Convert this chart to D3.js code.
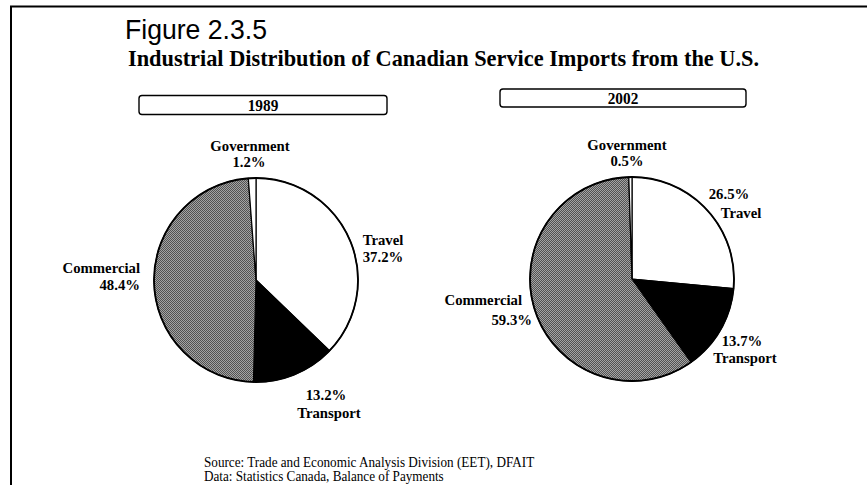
<!DOCTYPE html>
<html>
<head>
<meta charset="utf-8">
<script src="https://cdn.jsdelivr.net/npm/d3@7"></script>
<style>
  body { margin: 0; background: #fff; }
  svg { display: block; }
</style>
</head>
<body>
<div id="chart"></div>
<script>
// Figure 2.3.5 - two pies, 1989 vs 2002
var svgWidth = 867;
var svgHeight = 485;

// data
var years = ["1989", "2002"];
var categories = ["Travel", "Transport", "Commercial", "Government"];
var shares1989 = [37.2, 13.2, 48.4, 1.2];
var shares2002 = [26.5, 13.7, 59.3, 0.5];
var sourceLines = [
    "Source: Trade and Economic Analysis Division (EET), DFAIT",
    "Data: Statistics Canada, Balance of Payments"
];

var serif = "'Liberation Serif', 'Times New Roman', serif";

var svg = d3.select("#chart")
    .append("svg")
    .attr("width", svgWidth)
    .attr("height", svgHeight);

// the scan's type is a bit tall and narrow, squeeze text horizontally
function condense(sel, k) {
    sel.each(function() {
        var w = this.getComputedTextLength();
        d3.select(this)
            .attr("textLength", w * k)
            .attr("lengthAdjust", "spacingAndGlyphs");
    });
    return sel;
}

// dithered grey for the Commercial slice
var defs = svg.append("defs");
var pat = defs.append("pattern")
    .attr("id", "halftone")
    .attr("width", 2)
    .attr("height", 2)
    .attr("patternUnits", "userSpaceOnUse");
pat.append("rect").attr("width", 2).attr("height", 2).attr("fill", "#a4a4a4");
pat.append("rect").attr("width", 1).attr("height", 1).attr("fill", "#525252");
pat.append("rect").attr("x", 1).attr("y", 1).attr("width", 1).attr("height", 1).attr("fill", "#525252");

var fillScale = d3.scaleOrdinal()
    .domain(categories)
    .range(["#ffffff", "#000000", "url(#halftone)", "#ffffff"]);

// frame (top and left only, like the scan)
svg.append("line")
    .attr("x1", 10).attr("y1", 6.5).attr("x2", svgWidth).attr("y2", 6.5)
    .attr("stroke", "#000").attr("stroke-width", 2);
svg.append("line")
    .attr("x1", 11).attr("y1", 6).attr("x2", 11).attr("y2", svgHeight)
    .attr("stroke", "#000").attr("stroke-width", 2);

// headings
svg.append("text")
    .attr("x", 125)
    .attr("y", 39)
    .attr("font-family", "'Liberation Sans', Arial, sans-serif")
    .attr("font-size", 28)
    .attr("textLength", 142)
    .attr("lengthAdjust", "spacingAndGlyphs")
    .text("Figure 2.3.5");

svg.append("text")
    .attr("x", 128)
    .attr("y", 66)
    .attr("font-family", serif)
    .attr("font-weight", "bold")
    .attr("font-size", 24)
    .attr("textLength", 631)
    .attr("lengthAdjust", "spacingAndGlyphs")
    .text("Industrial Distribution of Canadian Service Imports from the U.S.");

// one entry per pie: where it sits and where its labels go
// each label: first line at (x, y), second line at (x + dx, y + dy)
var pies = [
    {
        year: years[0], values: shares1989,
        cx: 256, cy: 280, r: 102,
        box: {x: 139, y: 95.5, w: 248, h: 19},
        labels: {
            Government: {x: 250, y: 151, dx: -1, dy: 16, anchor: "middle", pctFirst: false},
            Travel: {x: 383, y: 245, dx: 0, dy: 17, anchor: "middle", pctFirst: false},
            Commercial: {x: 140, y: 273, dx: 0, dy: 17, anchor: "end", pctFirst: false},
            Transport: {x: 326, y: 400, dx: 3, dy: 18, anchor: "middle", pctFirst: true}
        }
    },
    {
        year: years[1], values: shares2002,
        cx: 632, cy: 279, r: 102,
        box: {x: 500, y: 89, w: 246, h: 18},
        labels: {
            Government: {x: 627, y: 150, dx: 0, dy: 16, anchor: "middle", pctFirst: false},
            Travel: {x: 729, y: 199, dx: 12, dy: 19, anchor: "middle", pctFirst: true},
            Commercial: {x: 522, y: 305, dx: 10, dy: 20, anchor: "end", pctFirst: false},
            Transport: {x: 742, y: 346, dx: 3, dy: 17, anchor: "middle", pctFirst: true}
        }
    }
];

var pie = d3.pie()
    .sort(null)
    .value(d => d.value);

pies.forEach(function(p) {
    var data = categories.map((c, i) => ({category: c, value: p.values[i]}));

    // year box
    svg.append("rect")
        .attr("x", p.box.x)
        .attr("y", p.box.y)
        .attr("width", p.box.w)
        .attr("height", p.box.h)
        .attr("rx", 3)
        .attr("fill", "#fff")
        .attr("stroke", "#000")
        .attr("stroke-width", 1.4);
    svg.append("text")
        .attr("x", p.box.x + p.box.w / 2)
        .attr("y", p.box.y + p.box.h - 3.5)
        .attr("text-anchor", "middle")
        .attr("font-family", serif)
        .attr("font-weight", "bold")
        .attr("font-size", 17)
        .text(p.year)
        .call(condense, 0.9);

    var arc = d3.arc()
        .innerRadius(0)
        .outerRadius(p.r);

    var g = svg.append("g")
        .attr("transform", `translate(${p.cx}, ${p.cy})`);

    g.selectAll("path")
        .data(pie(data))
        .enter()
        .append("path")
        .attr("d", arc)
        .attr("fill", d => fillScale(d.data.category))
        .attr("stroke", "#000")
        .attr("stroke-width", 1.2)
        .attr("stroke-linejoin", "round");

    // outer rim a touch heavier
    g.append("circle")
        .attr("r", p.r)
        .attr("fill", "none")
        .attr("stroke", "#000")
        .attr("stroke-width", 1.8);

    // slice labels
    data.forEach(function(d) {
        var lay = p.labels[d.category];
        var lines = [d.category, d.value.toFixed(1) + "%"];
        if (lay.pctFirst) lines.reverse();
        lines.forEach(function(s, k) {
            svg.append("text")
                .attr("x", lay.x + k * lay.dx)
                .attr("y", lay.y + k * lay.dy)
                .attr("font-family", serif)
                .attr("font-weight", "bold")
                .attr("font-size", 15.5)
                .attr("text-anchor", lay.anchor)
                .text(s)
                .call(condense, 0.95);
        });
    });
});

// source note
svg.append("g")
    .selectAll("text")
    .data(sourceLines)
    .enter()
    .append("text")
    .attr("x", 204)
    .attr("y", (d, i) => 467 + i * 14)
    .attr("font-family", serif)
    .attr("font-size", 14)
    .text(d => d)
    .call(condense, 0.94);
</script>
</body>
</html>
